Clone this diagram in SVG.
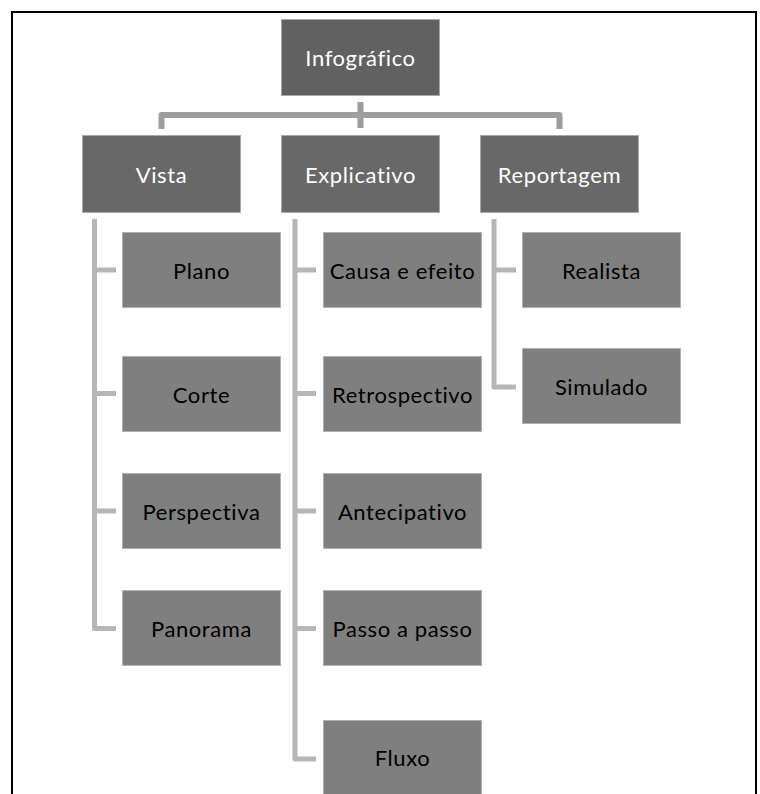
<svg xmlns="http://www.w3.org/2000/svg" width="760" height="794" viewBox="0 0 760 794">
<style>
.top{fill:#686868;stroke:#a8a8a8;stroke-width:1}
.root{fill:#616161;stroke:#a8a8a8;stroke-width:1}
.leaf{fill:#7f7f7f;stroke:#b0b0b0;stroke-width:1}
.tw{font-family:Lato,"Open Sans","Liberation Sans",sans-serif;font-size:22px;letter-spacing:0.6px;fill:#ffffff;text-anchor:middle;dominant-baseline:central}
.tb{font-family:Lato,"Open Sans","Liberation Sans",sans-serif;font-size:22px;letter-spacing:0.6px;fill:#000000;text-anchor:middle;dominant-baseline:central}
.c1{fill:none;stroke:#9e9e9e;stroke-width:6;stroke-linejoin:round}
.c2{fill:none;stroke:#b6b6b6;stroke-width:5;stroke-linejoin:round}
</style>
<rect x="0" y="0" width="760" height="794" fill="#ffffff"/>
<path d="M12,800 V12 H756 V800" fill="none" stroke="#000000" stroke-width="2"/>
<g id="connectors">
<path class="c1" d="M161.5,129 V115 H559.5 V129"/>
<path class="c1" d="M360.5,102 V128"/>
<path class="c2" d="M94.5,219 V628.5 H116"/>
<path class="c2" d="M94.5,270 H116 M94.5,393.5 H116 M94.5,511 H116"/>
<path class="c2" d="M295,219 V759 H316"/>
<path class="c2" d="M295,270 H316 M295,393.5 H316 M295,511 H316 M295,628.5 H316"/>
<path class="c2" d="M494,219 V387 H516"/>
<path class="c2" d="M494,270 H516"/>
</g>
<g id="infografico"><rect class="root" x="281.5" y="19.5" width="158" height="76"/><text class="tw" x="360.5" y="57">Infográfico</text></g>
<g id="vista"><rect class="top" x="82.5" y="135.5" width="158" height="77"/><text class="tw" x="161.5" y="174">Vista</text></g>
<g id="explicativo"><rect class="top" x="281.5" y="135.5" width="158" height="77"/><text class="tw" x="360.5" y="174">Explicativo</text></g>
<g id="reportagem"><rect class="top" x="480.5" y="135.5" width="158" height="77"/><text class="tw" x="559.5" y="174">Reportagem</text></g>
<g id="plano"><rect class="leaf" x="122.5" y="232.5" width="158" height="75"/><text class="tb" x="201.5" y="270">Plano</text></g>
<g id="corte"><rect class="leaf" x="122.5" y="356.5" width="158" height="75"/><text class="tb" x="201.5" y="394">Corte</text></g>
<g id="perspectiva"><rect class="leaf" x="122.5" y="473.5" width="158" height="75"/><text class="tb" x="201.5" y="511">Perspectiva</text></g>
<g id="panorama"><rect class="leaf" x="122.5" y="590.5" width="158" height="75"/><text class="tb" x="201.5" y="628">Panorama</text></g>
<g id="causa"><rect class="leaf" x="323.5" y="232.5" width="158" height="75"/><text class="tb" x="402.5" y="270">Causa e efeito</text></g>
<g id="retrospectivo"><rect class="leaf" x="323.5" y="356.5" width="158" height="75"/><text class="tb" x="402.5" y="394">Retrospectivo</text></g>
<g id="antecipativo"><rect class="leaf" x="323.5" y="473.5" width="158" height="75"/><text class="tb" x="402.5" y="511">Antecipativo</text></g>
<g id="passo"><rect class="leaf" x="323.5" y="590.5" width="158" height="75"/><text class="tb" x="402.5" y="628">Passo a passo</text></g>
<g id="fluxo"><rect class="leaf" x="323.5" y="720.5" width="158" height="80"/><text class="tb" x="402.5" y="757">Fluxo</text></g>
<g id="realista"><rect class="leaf" x="522.5" y="232.5" width="158" height="75"/><text class="tb" x="601.5" y="270">Realista</text></g>
<g id="simulado"><rect class="leaf" x="522.5" y="348.5" width="158" height="75"/><text class="tb" x="601.5" y="386">Simulado</text></g>
</svg>
